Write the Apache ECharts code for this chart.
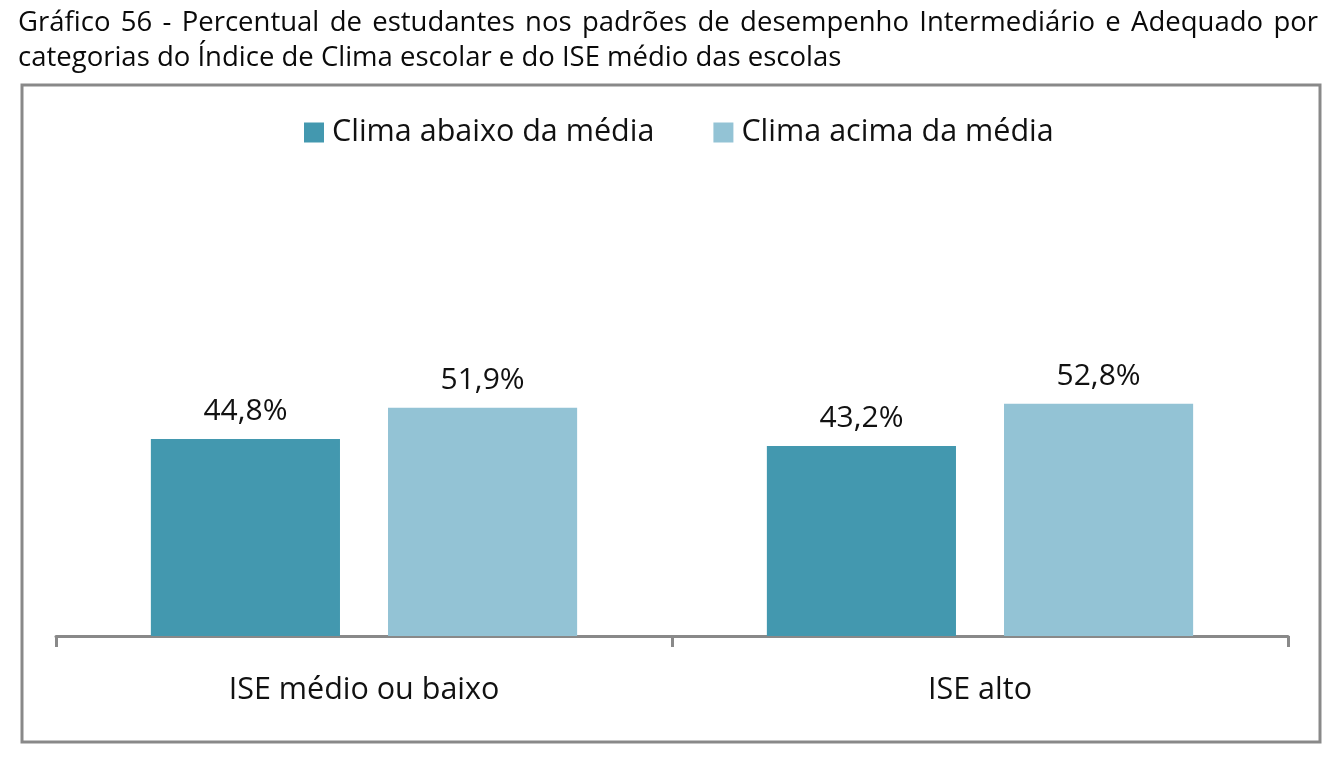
<!DOCTYPE html>
<html>
<head>
<meta charset="utf-8">
<script src="https://cdn.jsdelivr.net/npm/echarts@6/dist/echarts.min.js"></script>
<style>
html,body{margin:0;padding:0;background:#fff;}
#chart{width:1335px;height:768px;}
</style>
</head>
<body>
<div id="chart"></div>
<script>
const titleLine1 = "Gráfico 56 - Percentual de estudantes nos padrões de desempenho Intermediário e Adequado por";
const titleLine2 = "categorias do Índice de Clima escolar e do ISE médio das escolas";
const categories = ["ISE médio ou baixo", "ISE alto"];
const seriesNames = ["Clima abaixo da média", "Clima acima da média"];
const climaAbaixo = [44.8, 43.2];
const climaAcima = [51.9, 52.8];
const colors = ["#4398AF", "#93C3D5"];

const FONT = '"Open Sans", "Noto Sans", sans-serif';
const titleSize = 27.5;
const titleWeight = 500;

// justify line 1 across the width
const ctx = document.createElement('canvas').getContext('2d');
ctx.font = titleWeight + ' ' + titleSize + 'px "Open Sans"';
const words = titleLine1.split(' ');
const x0 = 18, x1 = 1318;
const widths = words.map(w => ctx.measureText(w).width);
const total = widths.reduce((a, b) => a + b, 0);
const space = (x1 - x0 - total) / (words.length - 1);
const titleEls = [];
let cx = x0;
words.forEach((w, i) => {
  titleEls.push({
    type: 'text', left: cx, top: 9,
    style: {text: w, font: titleWeight + ' ' + titleSize + 'px ' + FONT, fill: '#0a0a0a'}
  });
  cx += widths[i] + space;
});
titleEls.push({
  type: 'text', left: x0, top: 44,
  style: {text: titleLine2, font: titleWeight + ' ' + titleSize + 'px ' + FONT, fill: '#0a0a0a'}
});

const chart = echarts.init(document.getElementById('chart'));
const labelOpt = {
  show: true, position: 'top', distance: 12,
  fontFamily: FONT, fontSize: 30, color: '#111',
  formatter: p => p.value.toFixed(1).replace('.', ',') + '%'
};
chart.setOption({
  animation: false,
  textStyle: {fontFamily: FONT},
  graphic: titleEls.concat([{
    type: 'rect', shape: {x: 22, y: 85, width: 1298, height: 657},
    style: {fill: 'none', stroke: '#898989', lineWidth: 3}, z: -1
  }]),
  legend: {
    top: 112, left: 299, itemWidth: 20, itemHeight: 20, itemGap: 59,
    icon: 'rect',
    textStyle: {fontFamily: FONT, fontSize: 30.5, color: '#111', padding: [0, 0, 0, 3]},
    data: seriesNames
  },
  grid: {left: 56, right: 47, top: 196, bottom: 132},
  xAxis: {
    type: 'category', data: categories,
    axisLine: {lineStyle: {color: '#898989', width: 3}},
    axisTick: {show: true, length: 11, lineStyle: {color: '#898989', width: 3}},
    axisLabel: {fontFamily: FONT, fontSize: 30.5, color: '#111', margin: 39}
  },
  yAxis: {type: 'value', min: 0, max: 100, show: false, splitLine: {show: false}},
  series: [
    {name: seriesNames[0], type: 'bar', data: climaAbaixo, itemStyle: {color: colors[0]},
     barCategoryGap: '30.8%', barGap: '25.4%', label: labelOpt},
    {name: seriesNames[1], type: 'bar', data: climaAcima, itemStyle: {color: colors[1]},
     barCategoryGap: '30.8%', barGap: '25.4%', label: labelOpt}
  ]
});
</script>
</body>
</html>
